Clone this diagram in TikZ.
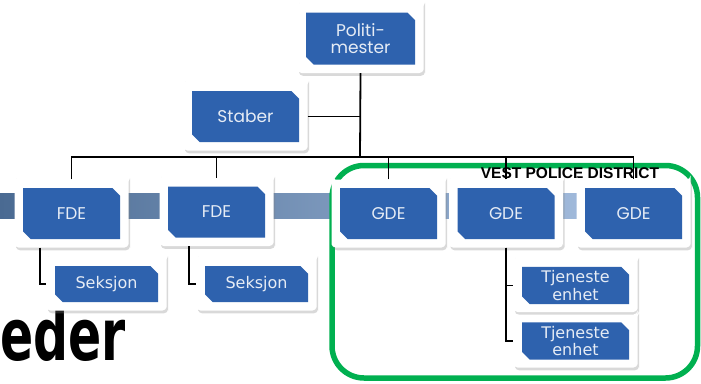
\documentclass[tikz,border=0pt]{standalone}
\usepackage{fontspec}
\setmainfont{DejaVu Sans}
\newfontfamily\geo{Poppins}
\newfontfamily\arialf{Liberation Sans}
\usetikzlibrary{shapes.misc,shadows}
\definecolor{boxblue}{HTML}{2E62AE}
\definecolor{boxtext}{HTML}{E6ECF5}
\definecolor{pgreen}{HTML}{00B050}
\definecolor{bandL}{HTML}{4A6A92}
\definecolor{bandR}{HTML}{B0C8E8}
\tikzset{
  framebox/.style={chamfered rectangle, chamfered rectangle corners={north east,south west},
    chamfered rectangle xsep=7pt, fill=white, draw=none, rounded corners=4pt, inner sep=0pt,
    drop shadow={opacity=0.3, shadow xshift=1.5pt, shadow yshift=-2.8pt}},
  bluebox/.style={chamfered rectangle, chamfered rectangle corners={north east,south west},
    chamfered rectangle xsep=4pt, fill=boxblue, draw=none, inner sep=0pt, text=boxtext, align=center},
  conn/.style={draw=black, line width=1.8pt},
  geofont/.style={font=\geo\fontsize{17}{17}\selectfont},
  verfont/.style={font=\fontsize{16}{17.5}\selectfont}
}
\newcommand\orgbox[7]{%
  \node[framebox, minimum width=#4pt+17pt, minimum height=#5pt+17pt] (#1f) at (#2,#3) {};
  \node[bluebox, minimum width=#4pt, minimum height=#5pt, #6] (#1) at (#2,#3) {#7};
}
\begin{document}
\begin{tikzpicture}[x=1pt,y=-1pt]
\useasboundingbox (0,0) rectangle (701,383);
\clip (0,0) rectangle (701,383);
% band
\path[left color=bandL, right color=bandR] (0,193) rectangle (690,218);
% title fragment
\node[anchor=base west, font=\bfseries\fontsize{72}{72}\selectfont, xscale=0.68, inner sep=0pt] (title) at (0,360) {eder};
% green district frame
\draw[pgreen, line width=5.5pt, rounded corners=32pt] (332,165.5) rectangle (697.5,378);
\node[font=\arialf\bfseries\fontsize{15.5}{15.5}\selectfont, inner sep=0pt] (district) at (570,173) {VEST POLICE DISTRICT};
% boxes
\orgbox{pol}{360.5}{38.5}{109}{52}{geofont}{Politi-\\mester}
\orgbox{stab}{245.5}{116.5}{107}{51}{geofont}{Staber}
\orgbox{fdeA}{71.5}{213.5}{97}{51}{geofont}{FDE}
\orgbox{fdeB}{216.5}{212}{97}{51}{geofont}{FDE}
\orgbox{gdeA}{388.5}{213.5}{97}{51}{geofont}{GDE}
\orgbox{gdeB}{506}{213.5}{97}{51}{geofont}{GDE}
\orgbox{gdeC}{633.5}{213.5}{97}{51}{geofont}{GDE}
\orgbox{sekA}{106.5}{284}{103}{36}{verfont}{Seksjon}
\orgbox{sekB}{256.5}{284}{103}{36}{verfont}{Seksjon}
\orgbox{tjA}{575.5}{285.5}{107}{36}{verfont}{Tjeneste\\enhet}
\orgbox{tjB}{575.5}{341}{107}{36}{verfont}{Tjeneste\\enhet}
% connectors
\coordinate (bus) at (360,157);
\draw[conn] (polf.south) -- (bus);
\draw[conn] (stabf.east) -- (stabf.east -| bus);
\draw[conn] (fdeAf.north) -- (fdeAf.north |- bus) -- (gdeCf.north |- bus) -- (gdeCf.north);
\draw[conn] (fdeBf.north) -- (fdeBf.north |- bus);
\draw[conn] (gdeAf.north) -- (gdeAf.north |- bus);
\draw[conn] (gdeBf.north) -- (gdeBf.north |- bus);
\draw[conn] ([xshift=-31.5pt]fdeAf.south) |- (sekAf.west);
\draw[conn] ([xshift=-27.5pt]fdeBf.south) |- (sekBf.west);
\draw[conn] (gdeBf.south) |- (tjAf.west);
\draw[conn] (gdeBf.south) |- (tjBf.west);
\end{tikzpicture}
\end{document}
